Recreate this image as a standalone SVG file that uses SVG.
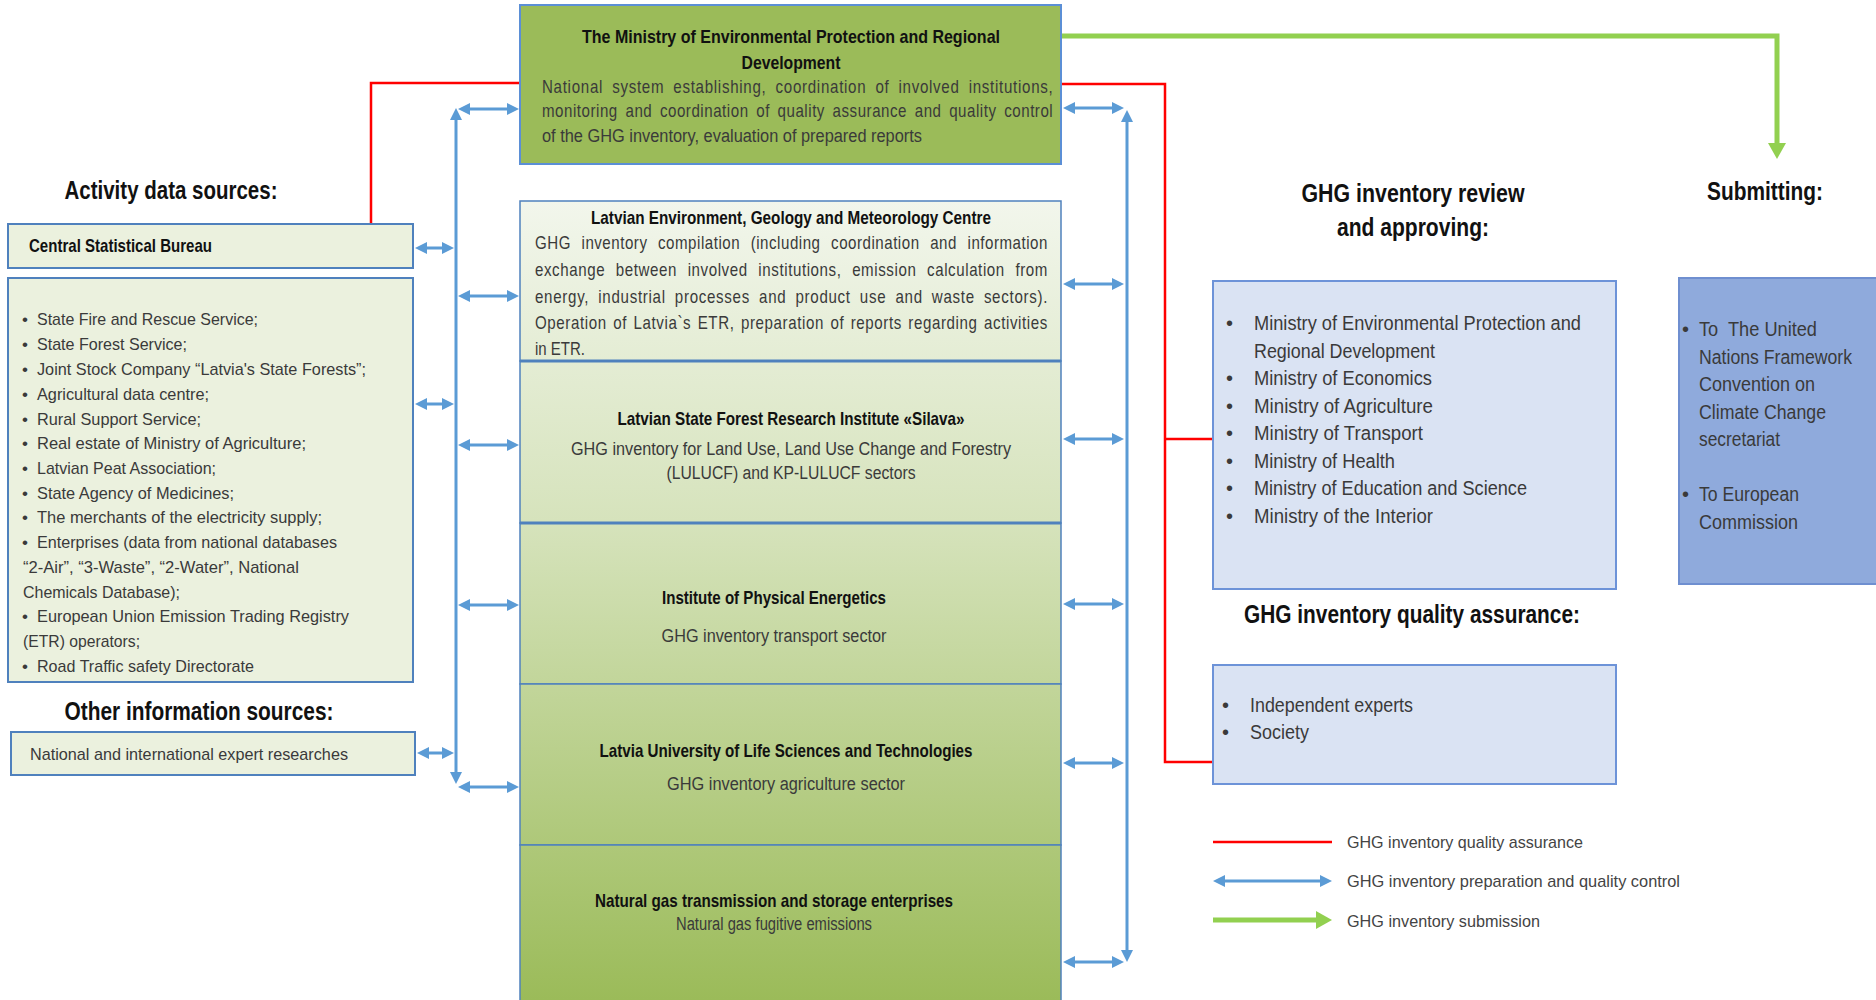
<svg xmlns="http://www.w3.org/2000/svg" width="1876" height="1000" viewBox="0 0 1876 1000">
  <defs>
    <linearGradient id="stackFill" gradientUnits="userSpaceOnUse" x1="0" y1="201" x2="0" y2="1000">
      <stop offset="0" stop-color="#F2F6EC"/>
      <stop offset="0.4" stop-color="#D6E3BC"/>
      <stop offset="1" stop-color="#9BBB59"/>
    </linearGradient>
    <marker id="bh" viewBox="0 0 12 12" refX="4" refY="6" markerWidth="12" markerHeight="12" markerUnits="userSpaceOnUse" orient="auto-start-reverse">
      <path d="M0,0 L12,6 L0,12 z" fill="#5B9BD5"/>
    </marker>
    <marker id="gh" viewBox="0 0 16 18" refX="4" refY="9" markerWidth="16" markerHeight="18" markerUnits="userSpaceOnUse" orient="auto">
      <path d="M0,0 L16,9 L0,18 z" fill="#92D050"/>
    </marker>
    <style>
      text { font-family: "Liberation Sans Narrow", "Arial Narrow", "Liberation Sans", Arial, sans-serif; }
      .h { font-size: 25px; font-weight: bold; fill: #111; }
      .t { font-size: 19px; font-weight: bold; fill: #111; }
      .b { font-size: 18px; fill: #3A3A3A; }
      .l { font-size: 17px; fill: #3A3A3A; }
      .r { font-size: 20px; fill: #3A3A3A; }
      .lg { font-size: 17px; fill: #444; }
      .c { text-anchor: middle; }
      .src { fill: #EBF1DE; stroke: #4F81BD; stroke-width: 2; }
      .rev { fill: #DAE3F3; stroke: #6D93D8; stroke-width: 2; }
      .sub { fill: #8FAADC; stroke: #6F8FD0; stroke-width: 2; }
      .stk { fill: url(#stackFill); stroke: #4F81BD; stroke-width: 1.5; }
      .blue { fill: none; stroke: #5B9BD5; stroke-width: 3; marker-start: url(#bh); marker-end: url(#bh); }
      .red { fill: none; stroke: #FF0000; stroke-width: 2.5; }
      .grn { fill: none; stroke: #92D050; stroke-width: 5; }
    </style>
  </defs>

  <rect width="1876" height="1000" fill="#FFFFFF"/>

  <!-- headings -->
  <text class="h c" x="171" y="199" textLength="213" lengthAdjust="spacingAndGlyphs">Activity data sources:</text>
  <text class="h c" x="199" y="720" textLength="269" lengthAdjust="spacingAndGlyphs">Other information sources:</text>
  <text class="h c" x="1413" y="202" textLength="223" lengthAdjust="spacingAndGlyphs">GHG inventory review</text>
  <text class="h c" x="1413" y="236" textLength="152" lengthAdjust="spacingAndGlyphs">and approving:</text>
  <text class="h c" x="1765" y="200" textLength="116" lengthAdjust="spacingAndGlyphs">Submitting:</text>
  <text class="h c" x="1412" y="623" textLength="336" lengthAdjust="spacingAndGlyphs">GHG inventory quality assurance:</text>

  <!-- connectors -->
  <g id="connectors">
    <!-- quality assurance links -->
    <path class="red" d="M520,83 H371 V224"/>
    <path class="red" d="M1061,84 H1165 V762 H1213"/>
    <path class="red" d="M1165,439 H1213"/>
    <!-- submission -->
    <path class="grn" d="M1061,36 H1777 V147" marker-end="url(#gh)"/>
    <!-- left bus -->
    <path class="blue" d="M456,116 V776"/>
    <path class="blue" d="M423,248 H446"/>
    <path class="blue" d="M423,404 H446"/>
    <path class="blue" d="M425,753 H446"/>
    <path class="blue" d="M466,109 H511"/>
    <path class="blue" d="M466,296 H511"/>
    <path class="blue" d="M466,445 H511"/>
    <path class="blue" d="M466,605 H511"/>
    <path class="blue" d="M466,787 H511"/>
    <!-- right bus -->
    <path class="blue" d="M1127,118 V954"/>
    <path class="blue" d="M1071,108 H1116"/>
    <path class="blue" d="M1071,284 H1116"/>
    <path class="blue" d="M1071,439 H1116"/>
    <path class="blue" d="M1071,604 H1116"/>
    <path class="blue" d="M1071,763 H1116"/>
    <path class="blue" d="M1071,962 H1116"/>
  </g>

  <!-- ministry -->
  <g id="ministry">
    <rect x="520" y="5" width="541" height="159" fill="#9BBB59" stroke="#5B8FD6" stroke-width="2"/>
    <text class="t c" x="791" y="43" textLength="418" lengthAdjust="spacingAndGlyphs">The Ministry of Environmental Protection and Regional</text>
    <text class="t c" x="791" y="69" textLength="99" lengthAdjust="spacingAndGlyphs">Development</text>
    <text class="b" transform="translate(542,93) scale(0.84,1)" fill="#2B2B2B" word-spacing="5" textLength="608" lengthAdjust="spacing">National system establishing, coordination of involved institutions,</text>
    <text class="b" transform="translate(542,117) scale(0.84,1)" fill="#2B2B2B" word-spacing="3.5" textLength="608" lengthAdjust="spacing">monitoring and coordination of quality assurance and quality control</text>
    <text class="b" x="542" y="142" fill="#2B2B2B" textLength="380" lengthAdjust="spacingAndGlyphs">of the GHG inventory, evaluation of prepared reports</text>
  </g>

  <!-- activity data sources -->
  <g id="csb">
    <rect class="src" x="8" y="224" width="405" height="44"/>
    <text class="t" x="29" y="252" textLength="183" lengthAdjust="spacingAndGlyphs">Central Statistical Bureau</text>
  </g>
  <g id="data-providers">
    <rect class="src" x="8" y="278" width="405" height="404"/>
    <g class="l">
      <text x="22" y="325">•</text><text x="37" y="325" textLength="221" lengthAdjust="spacingAndGlyphs">State Fire and Rescue Service;</text>
      <text x="22" y="350">•</text><text x="37" y="350" textLength="150" lengthAdjust="spacingAndGlyphs">State Forest Service;</text>
      <text x="22" y="374.5">•</text><text x="37" y="374.5" textLength="329" lengthAdjust="spacingAndGlyphs">Joint Stock Company “Latvia's State Forests”;</text>
      <text x="22" y="399.5">•</text><text x="37" y="399.5" textLength="172" lengthAdjust="spacingAndGlyphs">Agricultural data centre;</text>
      <text x="22" y="424.5">•</text><text x="37" y="424.5" textLength="164" lengthAdjust="spacingAndGlyphs">Rural Support Service;</text>
      <text x="22" y="449">•</text><text x="37" y="449" textLength="269" lengthAdjust="spacingAndGlyphs">Real estate of Ministry of Agriculture;</text>
      <text x="22" y="473.5">•</text><text x="37" y="473.5" textLength="179" lengthAdjust="spacingAndGlyphs">Latvian Peat Association;</text>
      <text x="22" y="498.5">•</text><text x="37" y="498.5" textLength="197" lengthAdjust="spacingAndGlyphs">State Agency of Medicines;</text>
      <text x="22" y="523">•</text><text x="37" y="523" textLength="285" lengthAdjust="spacingAndGlyphs">The merchants of the electricity supply;</text>
      <text x="22" y="548">•</text><text x="37" y="548" textLength="300" lengthAdjust="spacingAndGlyphs">Enterprises (data from national databases</text>
      <text x="23" y="573" textLength="276" lengthAdjust="spacingAndGlyphs">“2-Air”, “3-Waste”, “2-Water”, National</text>
      <text x="23" y="597.5" textLength="157" lengthAdjust="spacingAndGlyphs">Chemicals Database);</text>
      <text x="22" y="622">•</text><text x="37" y="622" textLength="312" lengthAdjust="spacingAndGlyphs">European Union Emission Trading Registry</text>
      <text x="23" y="647" textLength="117" lengthAdjust="spacingAndGlyphs">(ETR) operators;</text>
      <text x="22" y="671.5">•</text><text x="37" y="671.5" textLength="217" lengthAdjust="spacingAndGlyphs">Road Traffic safety Directorate</text>
    </g>
  </g>
  <g id="expert-research">
    <rect class="src" x="11" y="732" width="404" height="43"/>
    <text class="l" x="30" y="760" textLength="318" lengthAdjust="spacingAndGlyphs">National and international expert researches</text>
  </g>

  <!-- institutions stack -->
  <g id="legmc">
    <rect class="stk" x="520" y="201" width="541" height="160"/>
    <text class="t c" x="791" y="224" textLength="400" lengthAdjust="spacingAndGlyphs">Latvian Environment, Geology and Meteorology Centre</text>
    <text class="b" transform="translate(535,249) scale(0.84,1)" word-spacing="7" textLength="610" lengthAdjust="spacing">GHG inventory compilation (including coordination and information</text>
    <text class="b" transform="translate(535,276) scale(0.84,1)" word-spacing="7" textLength="610" lengthAdjust="spacing">exchange between involved institutions, emission calculation from</text>
    <text class="b" transform="translate(535,303) scale(0.84,1)" word-spacing="5" textLength="610" lengthAdjust="spacing">energy, industrial processes and product use and waste sectors).</text>
    <text class="b" transform="translate(535,329) scale(0.84,1)" word-spacing="2" textLength="610" lengthAdjust="spacing">Operation of Latvia`s ETR, preparation of reports regarding activities</text>
    <text class="b" x="535" y="355" textLength="50" lengthAdjust="spacingAndGlyphs">in ETR.</text>
  </g>
  <g id="silava">
    <rect class="stk" x="520" y="361" width="541" height="162"/>
    <text class="t c" x="791" y="425" textLength="347" lengthAdjust="spacingAndGlyphs">Latvian State Forest Research Institute «Silava»</text>
    <text class="b c" x="791" y="455" textLength="440" lengthAdjust="spacingAndGlyphs">GHG inventory for Land Use, Land Use Change and Forestry</text>
    <text class="b c" x="791" y="479" textLength="249" lengthAdjust="spacingAndGlyphs">(LULUCF) and KP-LULUCF sectors</text>
  </g>
  <g id="ipe">
    <rect class="stk" x="520" y="523" width="541" height="161"/>
    <text class="t c" x="774" y="604" textLength="224" lengthAdjust="spacingAndGlyphs">Institute of Physical Energetics</text>
    <text class="b c" x="774" y="642" textLength="225" lengthAdjust="spacingAndGlyphs">GHG inventory transport sector</text>
  </g>
  <g id="llu">
    <rect class="stk" x="520" y="684" width="541" height="161"/>
    <text class="t c" x="786" y="757" textLength="373" lengthAdjust="spacingAndGlyphs">Latvia University of Life Sciences and Technologies</text>
    <text class="b c" x="786" y="790" textLength="238" lengthAdjust="spacingAndGlyphs">GHG inventory agriculture sector</text>
  </g>
  <g id="gas">
    <rect class="stk" x="520" y="845" width="541" height="160"/>
    <text class="t c" x="774" y="907" textLength="358" lengthAdjust="spacingAndGlyphs">Natural gas transmission and storage enterprises</text>
    <text class="b c" x="774" y="930" textLength="196" lengthAdjust="spacingAndGlyphs">Natural gas fugitive emissions</text>
  </g>
  <!-- heavier dividers inside the stack -->
  <path d="M520,361 H1061 M520,523 H1061" stroke="#4F81BD" stroke-width="3" fill="none"/>

  <!-- review and approving -->
  <g id="review">
    <rect class="rev" x="1213" y="281" width="403" height="308"/>
    <g class="r">
      <text x="1226" y="330">•</text><text x="1254" y="330" textLength="327" lengthAdjust="spacingAndGlyphs">Ministry of Environmental Protection and</text>
      <text x="1254" y="357.5" textLength="181" lengthAdjust="spacingAndGlyphs">Regional Development</text>
      <text x="1226" y="385">•</text><text x="1254" y="385" textLength="178" lengthAdjust="spacingAndGlyphs">Ministry of Economics</text>
      <text x="1226" y="412.5">•</text><text x="1254" y="412.5" textLength="179" lengthAdjust="spacingAndGlyphs">Ministry of Agriculture</text>
      <text x="1226" y="440">•</text><text x="1254" y="440" textLength="169" lengthAdjust="spacingAndGlyphs">Ministry of Transport</text>
      <text x="1226" y="467.5">•</text><text x="1254" y="467.5" textLength="141" lengthAdjust="spacingAndGlyphs">Ministry of Health</text>
      <text x="1226" y="495">•</text><text x="1254" y="495" textLength="273" lengthAdjust="spacingAndGlyphs">Ministry of Education and Science</text>
      <text x="1226" y="522.5">•</text><text x="1254" y="522.5" textLength="179" lengthAdjust="spacingAndGlyphs">Ministry of the Interior</text>
    </g>
  </g>

  <!-- submitting -->
  <g id="submitting">
    <rect class="sub" x="1679" y="278" width="205" height="306"/>
    <g class="r">
      <text x="1682" y="336">•</text><text x="1699" y="336" xml:space="preserve" textLength="118" lengthAdjust="spacingAndGlyphs">To  The United</text>
      <text x="1699" y="363.5" textLength="153" lengthAdjust="spacingAndGlyphs">Nations Framework</text>
      <text x="1699" y="391" textLength="116" lengthAdjust="spacingAndGlyphs">Convention on</text>
      <text x="1699" y="418.5" textLength="127" lengthAdjust="spacingAndGlyphs">Climate Change</text>
      <text x="1699" y="446" textLength="81" lengthAdjust="spacingAndGlyphs">secretariat</text>
      <text x="1682" y="501">•</text><text x="1699" y="501" textLength="100" lengthAdjust="spacingAndGlyphs">To European</text>
      <text x="1699" y="528.5" textLength="99" lengthAdjust="spacingAndGlyphs">Commission</text>
    </g>
  </g>

  <!-- quality assurance -->
  <g id="qa">
    <rect class="rev" x="1213" y="665" width="403" height="119"/>
    <g class="r">
      <text x="1222" y="712">•</text><text x="1250" y="712" textLength="163" lengthAdjust="spacingAndGlyphs">Independent experts</text>
      <text x="1222" y="739">•</text><text x="1250" y="739" textLength="59" lengthAdjust="spacingAndGlyphs">Society</text>
    </g>
  </g>

  <!-- legend -->
  <g id="legend">
    <path class="red" d="M1213,842 H1332" stroke-width="3"/>
    <path class="blue" d="M1221,881 H1324"/>
    <path class="grn" d="M1213,920 H1320" stroke-width="6" marker-end="url(#gh)"/>
    <text class="lg" x="1347" y="848" textLength="236" lengthAdjust="spacingAndGlyphs">GHG inventory quality assurance</text>
    <text class="lg" x="1347" y="887" textLength="333" lengthAdjust="spacingAndGlyphs">GHG inventory preparation and quality control</text>
    <text class="lg" x="1347" y="927" textLength="193" lengthAdjust="spacingAndGlyphs">GHG inventory submission</text>
  </g>
</svg>
